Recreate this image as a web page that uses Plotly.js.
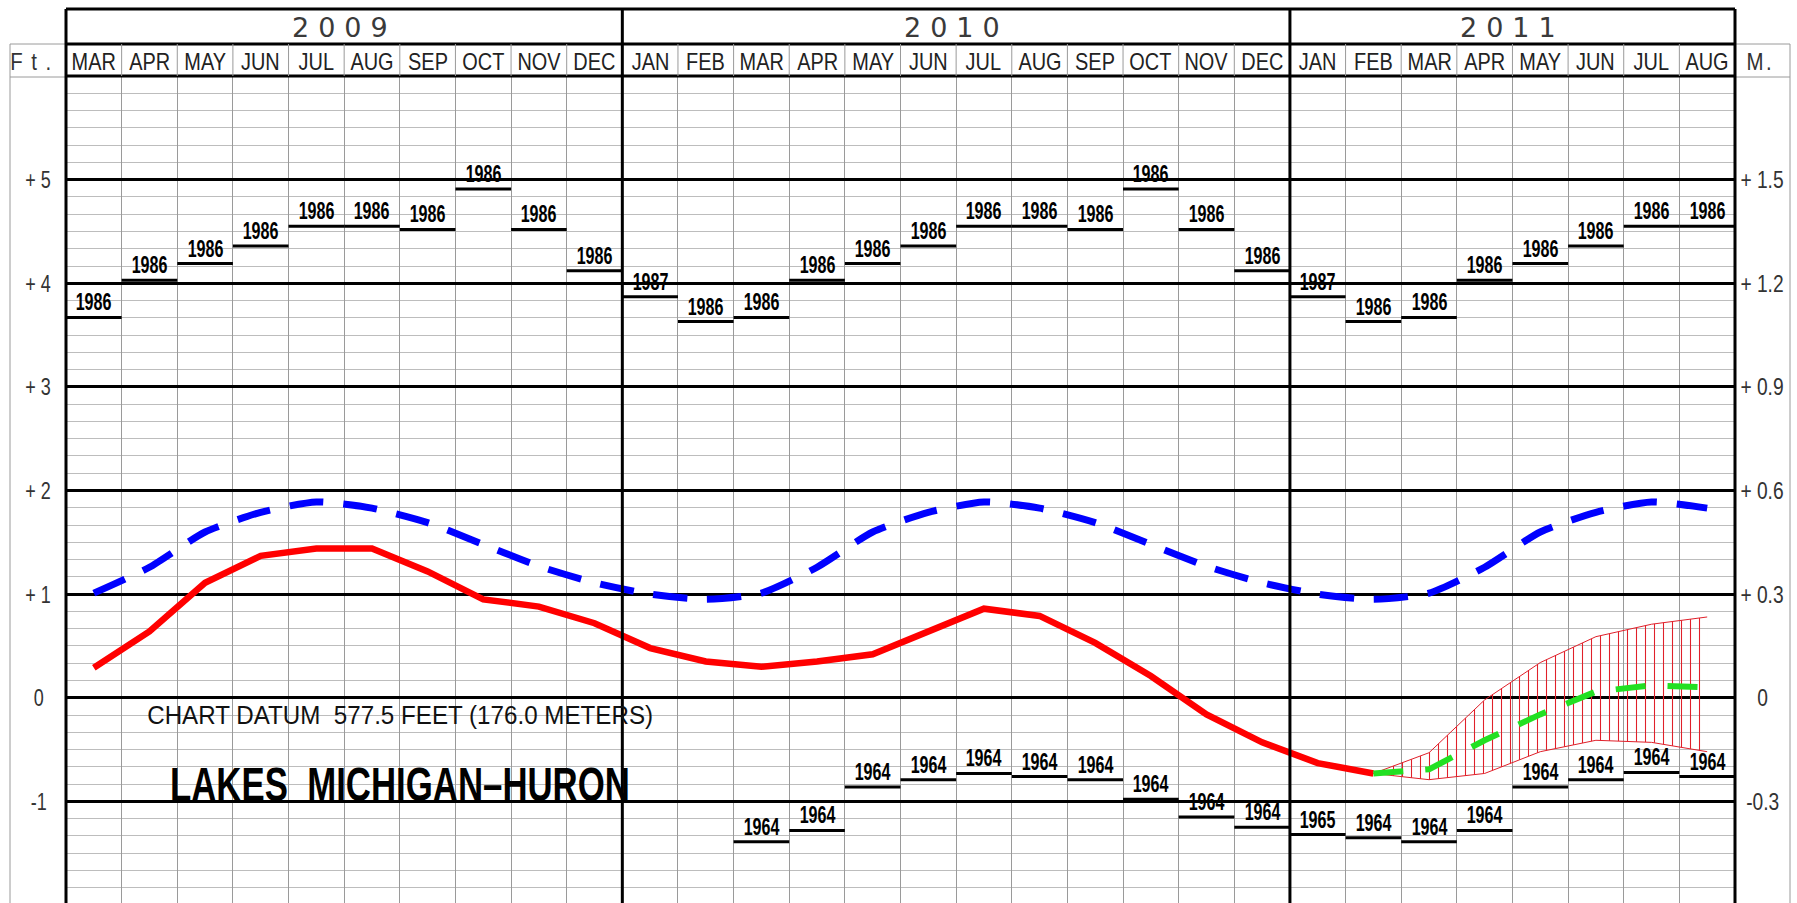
<!DOCTYPE html>
<html>
<head>
<meta charset="utf-8">
<script src="https://cdn.plot.ly/plotly-3.0.1.min.js"></script>
<style>
html,body{margin:0;padding:0;background:#fff;}
#chart{width:1797px;height:903px;}
</style>
</head>
<body>
<div id="chart"></div>
<script>
// ---------------- DATA ----------------
const monthLabels = ['MAR','APR','MAY','JUN','JUL','AUG','SEP','OCT','NOV','DEC',
  'JAN','FEB','MAR','APR','MAY','JUN','JUL','AUG','SEP','OCT','NOV','DEC',
  'JAN','FEB','MAR','APR','MAY','JUN','JUL','AUG'];
const yearLabels = ['2009','2010','2011'];
const yearMonthCounts = [10, 12, 8];

// long-term average level (ft above chart datum), MAR 2009 .. AUG 2011
const averageLevel = [1.01,1.26,1.60,1.79,1.89,1.83,1.69,1.48,1.27,1.11,
  1.00,0.95,1.01,1.26,1.60,1.79,1.89,1.83,1.69,1.48,1.27,1.11,
  1.00,0.95,1.01,1.26,1.60,1.79,1.89,1.83];

// recorded monthly mean level, MAR 2009 .. FEB 2011
const recordedLevel = [0.29,0.64,1.11,1.37,1.44,1.44,1.22,0.95,0.88,0.72,
  0.48,0.35,0.30,0.35,0.42,0.64,0.86,0.79,0.53,0.21,-0.16,-0.43,
  -0.63,-0.73];

// forecast, FEB 2011 .. AUG 2011
const forecastStart = 23;
const forecastLevel = [-0.73,-0.69,-0.41,-0.16,0.06,0.12,0.10];
const forecastHigh  = [-0.73,-0.53,-0.02,0.34,0.59,0.71,0.78];
const forecastLow   = [-0.73,-0.79,-0.73,-0.52,-0.41,-0.43,-0.52];

// record monthly highs
const recordHigh = [3.67,4.03,4.19,4.36,4.55,4.55,4.52,4.91,4.52,4.12,
  3.87,3.63,3.67,4.03,4.19,4.36,4.55,4.55,4.52,4.91,4.52,4.12,
  3.87,3.63,3.67,4.03,4.19,4.36,4.55,4.55];
const recordHighYear = ['1986','1986','1986','1986','1986','1986','1986','1986','1986','1986',
  '1987','1986','1986','1986','1986','1986','1986','1986','1986','1986','1986','1986',
  '1987','1986','1986','1986','1986','1986','1986','1986'];

// record monthly lows (shown from MAR 2010)
const recordLow = [null,null,null,null,null,null,null,null,null,null,null,null,
  -1.39,-1.28,-0.86,-0.79,-0.73,-0.76,-0.79,-0.98,-1.15,-1.25,
  -1.32,-1.35,-1.39,-1.28,-0.86,-0.79,-0.72,-0.76];
const recordLowYear = [null,null,null,null,null,null,null,null,null,null,null,null,
  '1964','1964','1964','1964','1964','1964','1964','1964','1964','1964',
  '1965','1964','1964','1964','1964','1964','1964','1964'];

const feetTicks   = [-1, 0, 1, 2, 3, 4, 5];
const feetLabels  = ['-1','0','+ 1','+ 2','+ 3','+ 4','+ 5'];
const meterLabels = ['-0.3','0','+ 0.3','+ 0.6','+ 0.9','+ 1.2','+ 1.5'];

// ---------------- LAYOUT GEOMETRY ----------------
const W = 1797, H = 903;
const ML = 66, MR = 62, MT = 76, MB = 0;
const N = monthLabels.length;
const PW = W - ML - MR, PH = H - MT - MB;
const py = p => 1 + (MT - p) / PH;          // pixel y -> paper y
const px = p => (p - ML) / PW;              // pixel x -> paper x
const SANS = 'Liberation Sans, Arial, sans-serif';
const mid = i => i + 0.5;

// ---------------- TRACES ----------------
const traces = [];
const fx = forecastHigh.map((_, k) => mid(forecastStart + k));
traces.push({x: fx, y: forecastLow, mode: 'lines', line: {color: '#e0202a', width: 1},
  hoverinfo: 'skip', showlegend: false});
traces.push({x: fx, y: forecastHigh, mode: 'lines', line: {color: '#e0202a', width: 1},
  fill: 'tonexty', fillcolor: 'rgba(0,0,0,0)',
  fillpattern: {shape: '|', fgcolor: '#e0202a', bgcolor: 'rgba(255,255,255,0)', size: 9, solidity: 0.12},
  hoverinfo: 'skip', showlegend: false});
traces.push({x: averageLevel.map((_, i) => mid(i)), y: averageLevel, mode: 'lines',
  line: {color: '#0000ff', width: 7, dash: '34px,20px', shape: 'spline', smoothing: 0.6},
  showlegend: false});
traces.push({x: recordedLevel.map((_, i) => mid(i)), y: recordedLevel, mode: 'lines',
  line: {color: '#ff0000', width: 6.5}, showlegend: false});
traces.push({x: fx, y: forecastLevel, mode: 'lines',
  line: {color: '#22e022', width: 6, dash: '30px,22px'}, showlegend: false});

function steps(vals) {
  const xs = [], ys = [];
  vals.forEach((v, i) => { if (v !== null) { xs.push(i, i + 1, null); ys.push(v, v, null); } });
  return {xs, ys};
}
const hi = steps(recordHigh), lo = steps(recordLow);
traces.push({x: hi.xs, y: hi.ys, mode: 'lines', line: {color: '#000', width: 3}, connectgaps: false, showlegend: false});
traces.push({x: lo.xs, y: lo.ys, mode: 'lines', line: {color: '#000', width: 3}, connectgaps: false, showlegend: false});

// ---------------- SHAPES ----------------
const shapes = [];
const blk = {color: '#000', width: 3};
const gry = {color: '#9a9a9a', width: 1};
[9, 44].forEach(p => shapes.push({type: 'line', xref: 'paper', yref: 'paper', x0: 0, x1: 1, y0: py(p), y1: py(p), line: blk}));
shapes.push({type: 'line', xref: 'paper', yref: 'paper', x0: 0, x1: 1, y0: 1, y1: 1, line: blk});
[[px(10), 0], [1, px(1790)]].forEach(([a, b]) => {
  shapes.push({type: 'line', xref: 'paper', yref: 'paper', x0: a, x1: b, y0: py(44), y1: py(44), line: gry});
  shapes.push({type: 'line', xref: 'paper', yref: 'paper', x0: a, x1: b, y0: py(77), y1: py(77), line: gry});
});
shapes.push({type: 'line', xref: 'paper', yref: 'paper', x0: px(10), x1: px(10), y0: 0, y1: py(44), line: gry});
shapes.push({type: 'line', xref: 'paper', yref: 'paper', x0: px(1790), x1: px(1790), y0: 0, y1: py(44), line: gry});
for (let i = 1; i < N; i++) {
  shapes.push({type: 'line', xref: 'paper', yref: 'paper', x0: i / N, x1: i / N, y0: 1, y1: py(44), line: gry});
}
let acc = 0;
const yearBounds = [0];
yearMonthCounts.forEach(c => { acc += c; yearBounds.push(acc); });
yearBounds.forEach(b => shapes.push({type: 'line', xref: 'paper', yref: 'paper', x0: b / N, x1: b / N, y0: 0, y1: py(9), line: blk}));

// ---------------- ANNOTATIONS ----------------
const ann = [];
const squeeze = [];   // per-annotation horizontal squeeze (narrow drafting lettering)
const spacing = [];   // per-annotation letter spacing
function addAnn(a, sx, ls) { ann.push(a); squeeze.push(sx || 1); spacing.push(ls || 0); }

yearLabels.forEach((t, k) => addAnn({xref: 'x', yref: 'paper', x: (yearBounds[k] + yearBounds[k + 1]) / 2, y: py(27),
  text: t, showarrow: false, xanchor: 'center', yanchor: 'middle',
  font: {family: 'DejaVu Sans', size: 27, color: '#3a3a3a'}}, 1, 9));
monthLabels.forEach((t, i) => addAnn({xref: 'x', yref: 'paper', x: mid(i), y: py(61), text: t, showarrow: false,
  xanchor: 'center', yanchor: 'middle', font: {family: SANS, size: 24, color: '#222'}}, 0.83));
addAnn({xref: 'paper', yref: 'paper', x: px(35), y: py(61), text: 'Ft.', showarrow: false, xanchor: 'center', yanchor: 'middle',
  font: {family: SANS, size: 24, color: '#333'}}, 0.85, 10);
addAnn({xref: 'paper', yref: 'paper', x: px(1760), y: py(61), text: 'M.', showarrow: false, xanchor: 'center', yanchor: 'middle',
  font: {family: SANS, size: 24, color: '#333'}}, 0.85, 3);
feetTicks.forEach((v, k) => {
  addAnn({xref: 'paper', yref: 'y', x: px(38), y: v, text: feetLabels[k], showarrow: false, xanchor: 'center', yanchor: 'middle',
    font: {family: SANS, size: 24, color: '#333'}}, 0.75);
  addAnn({xref: 'paper', yref: 'y', x: px(1762), y: v, text: meterLabels[k], showarrow: false, xanchor: 'center', yanchor: 'middle',
    font: {family: SANS, size: 24, color: '#333'}}, 0.8);
});
recordHigh.forEach((v, i) => addAnn({xref: 'x', yref: 'y', x: mid(i), y: v, text: recordHighYear[i], showarrow: false,
  xanchor: 'center', yanchor: 'bottom', yshift: 0, font: {family: SANS, size: 23, color: '#000', weight: 'bold'}}, 0.7));
recordLow.forEach((v, i) => { if (v !== null) addAnn({xref: 'x', yref: 'y', x: mid(i), y: v, text: recordLowYear[i], showarrow: false,
  xanchor: 'center', yanchor: 'bottom', yshift: 0, font: {family: SANS, size: 23, color: '#000', weight: 'bold'}}, 0.7); });
addAnn({xref: 'x', yref: 'y', x: 6.0, y: -0.17, text: 'CHART DATUM  577.5 FEET (176.0 METERS)', showarrow: false,
  xanchor: 'center', yanchor: 'middle', font: {family: SANS, size: 26, color: '#111'}}, 0.93);
addAnn({xref: 'x', yref: 'y', x: 6.0, y: -0.83, text: 'LAKES  MICHIGAN–HURON', showarrow: false,
  xanchor: 'center', yanchor: 'middle', font: {family: SANS, size: 49, color: '#000', weight: 'bold'}}, 0.71);

const layout = {
  width: W, height: H,
  margin: {l: ML, r: MR, t: MT, b: MB, pad: 0},
  paper_bgcolor: '#fff', plot_bgcolor: '#fff',
  showlegend: false,
  xaxis: {range: [0, N], tickmode: 'linear', tick0: 0, dtick: 1, showgrid: true, gridcolor: '#9a9a9a', gridwidth: 1,
    showticklabels: false, ticks: '', zeroline: false, showline: false, fixedrange: true},
  yaxis: {range: [-1.98, 6], tickmode: 'linear', tick0: 0, dtick: 1, showgrid: true, gridcolor: '#000', gridwidth: 3,
    showticklabels: false, ticks: '', zeroline: false, showline: false, fixedrange: true,
    minor: {tick0: 0, dtick: 1 / 6, showgrid: true, gridcolor: '#bdbdbd', gridwidth: 1, ticks: ''}},
  shapes: shapes,
  annotations: ann
};

Plotly.newPlot('chart', traces, layout, {displayModeBar: false, staticPlot: true}).then(() => {
  document.querySelectorAll('g.annotation').forEach(g => {
    const i = +g.getAttribute('data-index');
    const t = g.querySelector('.annotation-text');
    if (!t || isNaN(i)) return;
    if (spacing[i]) t.style.letterSpacing = spacing[i] + 'px';
    if (squeeze[i] !== 1) {
      t.style.transformBox = 'fill-box';
      t.style.transformOrigin = 'center';
      t.style.transform = 'scaleX(' + squeeze[i] + ')';
    }
  });
});
</script>
</body>
</html>
